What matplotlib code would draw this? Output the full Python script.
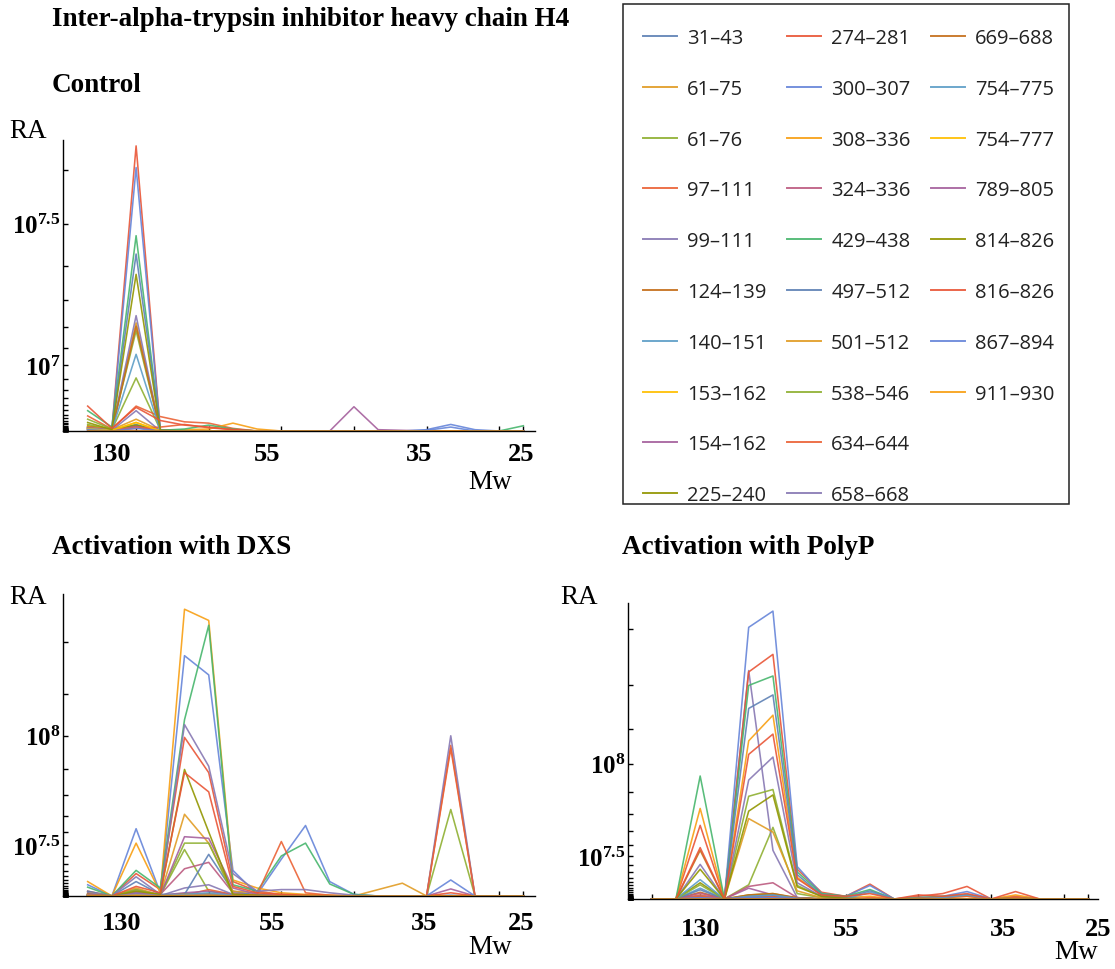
import numpy as np
import matplotlib.pyplot as plt
from matplotlib.lines import Line2D
from matplotlib.patches import Rectangle

plt.rcParams['mathtext.fontset'] = 'custom'
plt.rcParams['mathtext.rm'] = 'Liberation Serif'
plt.rcParams['mathtext.bf'] = 'Liberation Serif:bold'

W, H = 1115, 970

peptides = ['31–43', '61–75', '61–76', '97–111', '99–111', '124–139', '140–151',
            '153–162', '154–162', '225–240', '274–281', '300–307', '308–336',
            '324–336', '429–438', '497–512', '501–512', '538–546', '634–644',
            '658–668', '669–688', '754–775', '754–777', '789–805', '814–826',
            '816–826', '867–894', '911–930']

palette = ['#5E81B5', '#E19C24', '#8FB032', '#EB6235', '#8778B3', '#C56E1A',
           '#5D9EC7', '#FFBF00', '#A5609D', '#929600', '#E95536', '#6685D9',
           '#F89F13', '#BC5B80', '#47B66D']
colors = [palette[i % len(palette)] for i in range(len(peptides))]

lanes = np.arange(19)
tick_lanes = [0, 2, 5, 8, 11, 14, 17, 18]
mw_labels = ['130', '55', '35', '25']

# relative abundance per peptide (rows) and gel slice (columns), x 1e6
control = [
    [0.5, 0.2, 0.8, 0.1, 0, 0, 0, 0, 0, 0, 0, 0, 0, 0, 0, 0, 0, 0, 0],
    [0.8, 0.2, 1.8, 0.1, 0, 0, 0, 0, 0, 0, 0, 0, 0, 0, 0, 0, 0, 0, 0],
    [1.0, 0.2, 8.1, 0.2, 0, 0, 0, 0, 0, 0, 0, 0, 0, 0, 0, 0, 0, 0, 0],
    [2.3, 0.3, 3.8, 2.2, 1.4, 1.2, 0.4, 0, 0, 0, 0, 0, 0, 0, 0, 0, 0, 0, 0],
    [0.4, 0.1, 3.1, 0, 0, 0, 0, 0, 0, 0, 0, 0, 0, 0, 0, 0, 0, 0, 0],
    [0.3, 0.1, 0.9, 0, 0, 0, 0, 0, 0, 0, 0, 0, 0, 0, 0, 0, 0, 0, 0],
    [0.6, 0.1, 1.0, 0, 0, 0, 0, 0, 0, 0, 0, 0, 0, 0, 0, 0, 0, 0, 0],
    [0.5, 0.1, 1.3, 0, 0, 0, 0, 0, 0, 0, 0, 0, 0, 0, 0, 0, 0, 0, 0],
    [0.2, 0, 0.6, 0, 0, 0, 0, 0, 0, 0, 0, 0, 0, 0, 0, 0, 0, 0, 0],
    [0.7, 0.2, 0.9, 0, 0, 0, 0, 0, 0, 0, 0, 0, 0, 0, 0, 0, 0, 0, 0],
    [0.6, 0.3, 43.5, 0.2, 0, 0, 0, 0, 0, 0, 0, 0, 0, 0, 0, 0, 0, 0, 0],
    [0.4, 0.2, 40.2, 0.2, 0, 0, 0, 0, 0, 0, 0, 0, 0, 0, 0.2, 1.0, 0.2, 0, 0],
    [0.6, 0.2, 0.5, 0.1, 0.2, 0.3, 1.2, 0.3, 0, 0, 0, 0, 0, 0, 0, 0, 0, 0, 0],
    [0.2, 0, 0.7, 0, 0, 0, 0, 0, 0, 0, 0, 0, 0, 0, 0, 0, 0, 0, 0],
    [3.1, 0.6, 29.8, 0.1, 0.3, 0.9, 0.3, 0, 0, 0, 0, 0, 0, 0, 0, 0, 0, 0, 0.8],
    [0.5, 0.2, 27.0, 0.1, 0, 0, 0, 0, 0, 0, 0, 0, 0, 0, 0, 0, 0, 0, 0],
    [0.3, 0.1, 16.5, 0, 0, 0, 0, 0, 0, 0, 0, 0, 0, 0, 0, 0, 0, 0, 0],
    [1.8, 0.3, 15.3, 0, 0, 0, 0, 0, 0, 0, 0, 0, 0, 0, 0, 0, 0, 0, 0],
    [0.5, 0.1, 0.4, 0.6, 1.0, 0.5, 0.2, 0, 0, 0, 0, 0, 0, 0, 0, 0, 0, 0, 0],
    [0.3, 0.1, 17.6, 0, 0, 0, 0, 0, 0, 0, 0, 0, 0, 0, 0, 0, 0, 0, 0],
    [0.2, 0, 16.0, 0, 0, 0, 0, 0, 0, 0, 0, 0, 0, 0, 0, 0, 0, 0, 0],
    [0.4, 0.1, 11.7, 0, 0, 0, 0, 0, 0, 0, 0, 0, 0, 0, 0, 0, 0, 0, 0],
    [0.3, 0.1, 1.3, 0, 0, 0, 0, 0, 0, 0, 0, 0, 0, 0, 0, 0, 0, 0, 0],
    [0, 0, 0, 0, 0, 0, 0, 0, 0, 0, 0, 3.7, 0.2, 0.1, 0, 0, 0, 0, 0],
    [1.3, 0.2, 23.9, 0.1, 0, 0, 0, 0, 0, 0, 0, 0, 0, 0, 0, 0, 0, 0, 0],
    [3.8, 0.4, 3.6, 1.6, 0.9, 0.6, 0.2, 0, 0, 0, 0, 0, 0, 0, 0, 0, 0, 0, 0],
    [0.2, 0, 0.4, 0, 0, 0, 0, 0, 0, 0, 0, 0, 0, 0, 0.1, 0.6, 0, 0, 0],
    [0, 0, 0, 0, 0, 0, 0, 0, 0, 0, 0, 0, 0, 0, 0, 0, 0, 0, 0],
]

dxs = [
    [0.4, 0, 1.0, 0.2, 0.3, 0.5, 0.2, 0, 0, 0, 0, 0, 0, 0, 0, 0.5, 0, 0, 0],
    [0.8, 0, 1.5, 0.3, 0.5, 0.4, 0.2, 0, 0, 0, 0, 0, 4, 8, 0, 0, 0, 0, 0],
    [1.0, 0, 3.0, 0.5, 29, 3, 1, 0, 0, 0, 0, 0, 0, 0, 0, 54, 0, 0, 0],
    [0.5, 0, 1.0, 0.2, 0.5, 4, 1, 0, 0, 0, 0, 0, 0, 0, 0, 94, 0, 0, 0],
    [0.3, 0, 0.8, 0.2, 5, 7, 1, 0, 0, 0, 0, 0, 0, 0, 0, 100, 0, 0, 0],
    [0.6, 0, 1.2, 0.2, 1, 1, 0.3, 0, 0, 0, 0, 0, 0, 0, 0, 0, 0, 0, 0],
    [1.0, 0, 2.0, 0.3, 1, 1, 0.3, 0, 0, 0, 0, 0, 0, 0, 0, 0, 0, 0, 0],
    [0.5, 0, 0.8, 0.1, 0.5, 0.5, 0.2, 0, 0, 0, 0, 0, 0, 0, 0, 0, 0, 0, 0],
    [0.3, 0, 2.5, 0.5, 2, 3, 0.5, 0, 0, 0, 0, 0, 0, 0, 0, 4.4, 0, 0, 0],
    [0.5, 0, 1.5, 0.3, 1, 1, 0.2, 0, 0, 0, 0, 0, 0, 0, 0, 0, 0, 0, 0],
    [3, 0, 14, 4, 99, 77, 9, 3, 1, 0.5, 0.3, 0, 0, 0, 0, 2, 0, 0, 0],
    [7, 0, 42, 2, 150, 138, 16, 1, 23, 44, 9, 1, 0, 0, 0, 0, 0, 0, 0],
    [9, 0, 33, 2, 179, 172, 10, 5, 2, 1, 0.5, 0, 0, 0, 0, 0, 0, 0, 0],
    [1, 0, 4, 1, 17, 21, 2, 0.5, 0, 0, 0, 0, 0, 0, 0, 0, 0, 0, 0],
    [5.5, 0, 16, 5, 110, 169, 7, 3, 25, 33, 7.5, 1, 0, 0, 0, 0, 0, 0, 0],
    [3, 0, 9, 1, 1, 26, 3, 0.5, 0, 0, 0, 0, 0, 0, 0, 0, 0, 0, 0],
    [2, 0, 5, 0.5, 51, 33, 3, 2, 1, 0.5, 0, 0, 0, 0, 0, 0, 0, 0, 0],
    [1, 0, 4, 0.5, 33, 33, 1, 0.5, 0, 0, 0, 0, 0, 0, 0, 0, 0, 0, 0],
    [0.5, 0, 1.5, 0.3, 1, 1, 0.5, 1, 34, 2, 0.5, 0, 0, 0, 0, 92, 0, 0, 0],
    [2, 0, 12, 1, 107, 81, 14, 3, 4, 4, 2, 0.5, 0, 0, 0, 0, 0, 0, 0],
    [0.5, 0, 1, 0.2, 1, 1, 0.3, 0, 0, 0, 0, 0, 0, 0, 0, 0, 0, 0, 0],
    [0.8, 0, 2, 0.3, 1, 2, 0.3, 0, 0, 0, 0, 0, 0, 0, 0, 0, 0, 0, 0],
    [0.3, 0, 0.5, 0.1, 0.3, 0.3, 0.1, 0, 0, 0, 0, 0, 0, 0, 0, 0, 0, 0, 0],
    [0.5, 0, 2, 0.3, 37, 36, 5, 1, 0.5, 0, 0, 0, 0, 0, 0, 0, 0, 0, 0],
    [1, 0, 3, 1, 79, 40, 1, 0.5, 0, 0, 0, 0, 0, 0, 0, 0, 0, 0, 0],
    [1, 0, 6, 2, 77, 65, 6, 2, 1, 0.5, 0, 0, 0, 0, 0, 0, 0, 0, 0],
    [0.5, 0, 1, 0.2, 0.5, 0.5, 0.2, 0, 0, 0, 0, 0, 0, 0, 0, 10, 0, 0, 0],
    [0.3, 0, 0.5, 0.1, 0.3, 0.3, 0.1, 0, 0, 0, 0, 0, 0, 0, 0, 0, 0, 0, 0],
]

polyp = [
    [0, 0, 1.5, 0, 1, 1.5, 0.5, 0.2, 0, 0, 0, 0, 0, 0, 0, 0, 0, 0, 0],
    [0, 0, 2, 0, 1.5, 2, 0.5, 0.2, 0, 0, 0, 0, 0, 0, 0, 0, 0, 0, 0],
    [0, 0, 2, 0, 10.5, 53, 4, 1, 0.3, 0, 0, 0, 0, 0, 0, 0, 0, 0, 0],
    [0, 0, 3, 0, 2, 2, 0.5, 0, 0, 0, 0, 0, 0, 0, 0, 0, 0, 0, 0],
    [0, 0, 1, 0, 169, 36, 1, 0, 0, 0, 0, 0, 0, 0, 0, 0, 0, 0, 0],
    [0, 0, 5, 0, 2, 3, 0.5, 0, 0, 0, 0, 0, 0, 0, 0, 0, 0, 0, 0],
    [0, 0, 8, 0, 2, 3, 0.5, 0, 0, 0, 0, 0, 0, 0, 0, 0, 0, 0, 0],
    [0, 0, 1, 0, 0.5, 0.5, 0.2, 0, 0, 0, 0, 0, 0, 0, 0, 0, 0, 0, 0],
    [0, 0, 1.5, 0, 8, 3, 0.5, 0, 0, 0, 0, 0, 0, 0, 0, 0, 0, 0, 0],
    [0, 0, 12, 0, 3, 4, 0.5, 0, 0, 0, 0, 0, 0, 0, 0, 0, 0, 0, 0],
    [0, 0, 54.5, 0, 168, 181, 22, 5, 2, 11, 0, 2, 4, 9.3, 0, 2, 0, 0, 0],
    [0, 0, 2, 0, 201, 213, 24, 4, 2, 10, 0, 1, 2, 5.5, 0, 0, 0, 0, 0],
    [0, 0, 67, 0, 117, 136, 16, 3, 1, 2, 0, 0.5, 1, 2, 0, 3, 0, 0, 0],
    [0, 0, 4.3, 0, 9.3, 12, 1, 0, 0, 0, 0, 0, 0, 0, 0, 0, 0, 0, 0],
    [0, 0, 91, 0, 158, 165, 20, 4, 2, 7, 0, 1, 2, 3, 0, 1, 0, 0, 0],
    [0, 0, 6.8, 0, 141, 151, 18, 3, 1, 6, 0, 0.5, 1, 3, 0, 0, 0, 0, 0],
    [0, 0, 1, 0, 59.5, 49.5, 6, 1, 0, 0, 0, 0, 0, 0, 0, 0, 0, 0, 0],
    [0, 0, 10.5, 0, 76, 81, 10, 2, 0.5, 0, 0, 0, 0, 0, 0, 0, 0, 0, 0],
    [0, 0, 2, 0, 1, 1, 0.5, 0, 0, 1, 0, 0.5, 1, 2, 0, 1, 0, 0, 0],
    [0, 0, 25.6, 0, 88, 105, 12, 2, 0.5, 0, 0, 0, 0, 0, 0, 0, 0, 0, 0],
    [0, 0, 36, 0, 3, 4, 1, 0, 0, 0, 0, 0, 0, 0, 0, 0, 0, 0, 0],
    [0, 0, 14.3, 0, 2, 3, 0.5, 0, 0, 5, 0, 0, 1, 3, 0, 0, 0, 0, 0],
    [0, 0, 0.5, 0, 0.3, 0.3, 0, 0, 0, 0, 0, 0, 0, 0, 0, 0, 0, 0, 0],
    [0, 0, 1, 0, 1, 1, 0.3, 0, 0, 0, 0, 0, 0, 0, 0, 0, 0, 0, 0],
    [0, 0, 22, 0, 65, 77, 9, 2, 0.5, 0, 0, 0, 0, 0, 0, 0, 0, 0, 0],
    [0, 0, 38, 0, 107, 122, 15, 3, 2, 4, 0, 3, 2, 4, 0, 5.5, 0, 0, 0],
    [0, 0, 1, 0, 1, 1, 0.3, 0, 0, 0, 0, 0, 0, 0, 0, 0, 0, 0, 0],
    [0, 0, 0, 0, 0, 0, 0, 0, 0, 0, 0, 0, 0, 0, 0, 0, 0, 0, 0],
]

serif = 'Liberation Serif'
fig = plt.figure(figsize=(W / 100, H / 100), dpi=100)


def fig_box(x0, y0, x1, y1):
    # pixel box (top-left origin) -> figure fraction rect
    return [x0 / W, 1 - y1 / H, (x1 - x0) / W, (y1 - y0) / H]


def draw_panel(box, values, xlim, ymax, label_lanes, labelled, pad):
    ax = fig.add_axes(fig_box(*box))
    for row, color in zip(values, colors):
        ax.plot(lanes, np.array(row) * 1e6, color=color, lw=1.15, alpha=0.9)
    ax.set_xlim(*xlim)
    ax.set_ylim(0, ymax)
    for side in ['top', 'right']:
        ax.spines[side].set_visible(False)
    for side in ['left', 'bottom']:
        ax.spines[side].set_linewidth(1.0)

    # tick marks at gel slices, marker masses as zero-length ticks
    ax.xaxis.remove_overlapping_locs = False
    ax.set_xticks(tick_lanes, [''] * len(tick_lanes))
    ax.set_xticks(label_lanes, mw_labels, minor=True)
    ax.tick_params(axis='x', which='major', direction='in', length=3.5, width=1.0)
    ax.tick_params(axis='x', which='minor', length=0, pad=pad)
    for t in ax.get_xticklabels(minor=True):
        t.set_fontfamily(serif)
        t.set_fontweight('bold')
        t.set_fontsize(19)

    exps = np.arange(40, 91) / 10
    exps = exps[10 ** exps < ymax]
    labels = []
    for e in exps:
        key = round(e, 1)
        labels.append(r'$\mathbf{10^{%s}}$' % labelled[key] if key in labelled else '')
    ax.set_yticks(10 ** exps, labels)
    ax.tick_params(axis='y', direction='in', length=3.5, width=1.0, pad=2, labelsize=18)
    return ax


draw_panel((63, 141, 535, 432), control, (-1.02, 18.48), 4.44e7,
           [1.0, 7.4, 13.7, 17.9], {7.0: '7', 7.5: '7.5'}, 8)
draw_panel((63, 595, 535, 897), dxs, (-1.02, 18.48), 18.85e7,
           [1.4, 7.6, 13.9, 17.9], {7.5: '7.5', 8.0: '8'}, 11)
draw_panel((628, 604, 1098, 900), polyp, (-0.975, 18.37), 21.9e7,
           [2.0, 8.0, 14.5, 18.4], {7.5: '7.5', 8.0: '8'}, 13)

bold = dict(family=serif, weight='bold', size=19.5, va='center', ha='left')
fig.text(52 / W, 1 - 20 / H, 'Inter-alpha-trypsin inhibitor heavy chain H4', **bold)
fig.text(52 / W, 1 - 85 / H, 'Control', **bold)
fig.text(52 / W, 1 - 548 / H, 'Activation with DXS', **bold)
fig.text(622 / W, 1 - 548 / H, 'Activation with PolyP', **bold)

plain = dict(family=serif, size=19.5, va='center', ha='center')
for x, y in [(28, 131), (28, 597), (579, 597)]:
    fig.text(x / W, 1 - y / H, 'RA', **plain)
for x, y in [(490, 483), (490, 948), (1076, 953)]:
    fig.text(x / W, 1 - y / H, 'Mw', **plain)

# legend: three columns of ten, last column padded with blanks
handles = [Line2D([], [], color=c, lw=1.4, alpha=0.9) for c in colors]
handles += [Line2D([], [], color='none')] * 2
fig.legend(handles, peptides + ['', ''], ncol=3, loc='upper left',
           bbox_to_anchor=(643 / W, 1 - 29 / H), frameon=False,
           prop={'family': 'Open Sans', 'size': 14.5}, labelcolor='#222222',
           handlelength=1.7, handletextpad=0.5, columnspacing=1.0,
           labelspacing=1.53, borderpad=0, borderaxespad=0)
fig.add_artist(Rectangle((623 / W, 1 - 505 / H), (1069 - 623) / W, 500 / H,
                         transform=fig.transFigure, fill=False, ec='#222222', lw=1.1))

fig.savefig('out.png', dpi=100)
